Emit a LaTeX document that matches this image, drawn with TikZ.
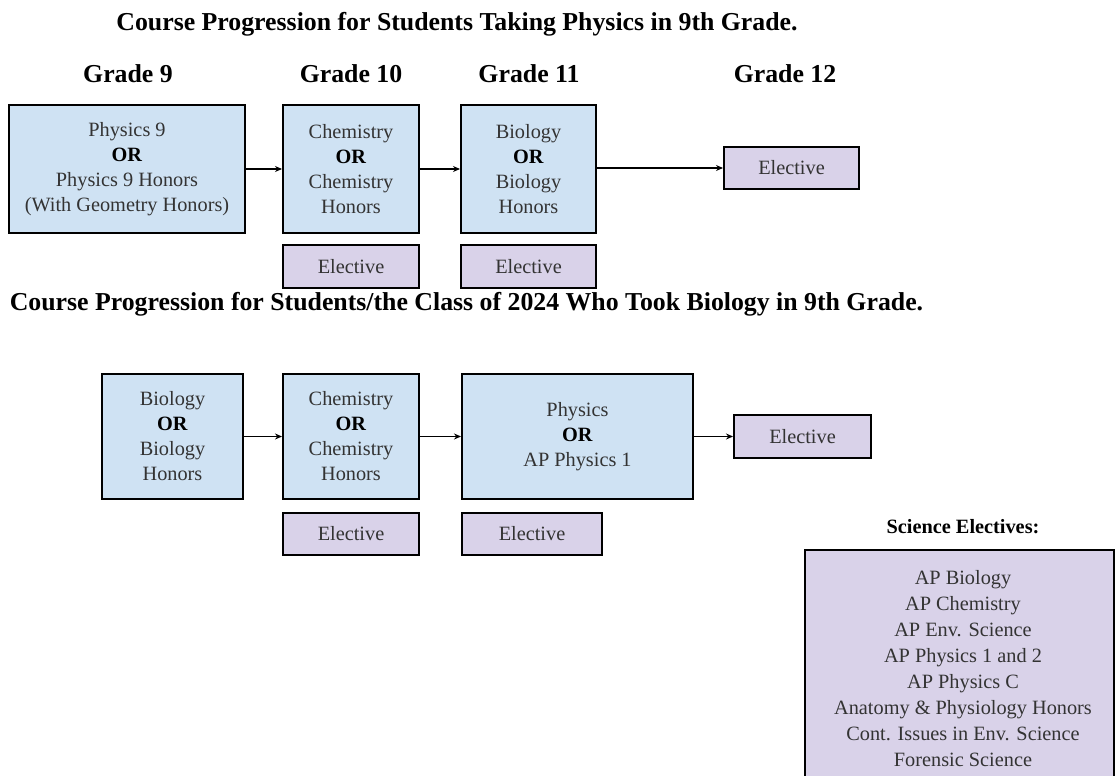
\documentclass[tikz,border=0pt]{standalone}
\usepackage{fontspec}
\setmainfont{Liberation Serif}
\usetikzlibrary{arrows.meta}
\definecolor{boxblue}{HTML}{CFE2F3}
\definecolor{boxpurple}{HTML}{D9D2E9}
\definecolor{txtgray}{HTML}{333333}
\tikzset{
  course/.style={draw=black, line width=2pt, fill=boxblue, align=center, text=txtgray,
    font=\fontsize{20.3}{25}\selectfont, inner sep=0pt},
  elect/.style={draw=black, line width=2pt, fill=boxpurple, align=center, text=txtgray,
    font=\fontsize{20.3}{25}\selectfont, inner sep=0pt},
  heading/.style={anchor=base, font=\bfseries\fontsize{25.8}{30}\selectfont, inner sep=0pt},
  flow/.style={line width=1.3pt, -{Stealth[length=7pt,width=6pt]}},
}
\newcommand{\orw}{\textcolor{black}{\textbf{OR}}}
\begin{document}
\begin{tikzpicture}[x=1pt,y=-1pt]
\useasboundingbox (0,0) rectangle (1116,776);
\clip (0,0) rectangle (1116,776);
\fill[white] (0,0) rectangle (1116,776);

% titles
\node[heading] (t1) at (457,31) {Course Progression for Students Taking Physics in 9th Grade.};
\node[heading] (g9) at (128,82) {Grade 9};
\node[heading] (g10) at (351,82) {Grade 10};
\node[heading] (g11) at (529,82) {Grade 11};
\node[heading] (g12) at (785,82) {Grade 12};

% top row
\node[course, minimum width=236pt, minimum height=128pt] (p9) at (127,169)
  {Physics 9\\\orw\\Physics 9 Honors\\(With Geometry Honors)};
\node[course, minimum width=136pt, minimum height=128pt] (chem1) at (351,169)
  {Chemistry\\\orw\\Chemistry\\Honors};
\node[course, minimum width=135pt, minimum height=128pt] (bio1) at (528.5,169)
  {Biology\\\orw\\Biology\\Honors};
\node[elect, minimum width=135pt, minimum height=42pt] (el12) at (791.5,168) {Elective};
\node[elect, minimum width=136pt, minimum height=43pt] (elc1) at (351,266.5) {Elective};
\node[elect, minimum width=135pt, minimum height=43pt] (elb1) at (528.5,266.5) {Elective};

\draw[flow] (p9.east) -- (chem1.west);
\draw[flow] (chem1.east) -- (bio1.west);
\draw[flow] (bio1.east |- el12.west) -- (el12.west);

% second title
\node[heading] (t2) at (466.5,310) {Course Progression for Students/the Class of 2024 Who Took Biology in 9th Grade.};

% bottom row
\node[course, minimum width=141pt, minimum height=125pt] (bio2) at (172.5,436.5)
  {Biology\\\orw\\Biology\\Honors};
\node[course, minimum width=136pt, minimum height=125pt] (chem2) at (351,436.5)
  {Chemistry\\\orw\\Chemistry\\Honors};
\node[course, minimum width=231pt, minimum height=125pt] (phys2) at (577.5,436.5)
  {Physics\\\orw\\AP Physics 1};
\node[elect, minimum width=137pt, minimum height=43pt] (el4) at (802.5,436.5) {Elective};
\node[elect, minimum width=136pt, minimum height=42pt] (elc2) at (351,534) {Elective};
\node[elect, minimum width=140pt, minimum height=42pt] (elp2) at (532,534) {Elective};

\draw[flow] (bio2.east) -- (chem2.west);
\draw[flow] (chem2.east) -- (phys2.west);
\draw[flow] (phys2.east) -- (el4.west);

% science electives
\node[anchor=base, font=\bfseries\fontsize{20.3}{25}\selectfont, inner sep=0pt] (selab) at (963,533) {Science Electives:};
\node[elect, anchor=north west, minimum width=309pt, minimum height=260pt] (sebox) at (804,549) {};
\node[anchor=center, align=center, text=txtgray, font=\fontsize{20.3}{26}\selectfont, inner sep=0pt] (selist) at (963,669)
  {AP Biology\\AP Chemistry\\AP Env. Science\\AP Physics 1 and 2\\AP Physics C\\Anatomy \& Physiology Honors\\Cont. Issues in Env. Science\\Forensic Science};
\end{tikzpicture}
\end{document}
